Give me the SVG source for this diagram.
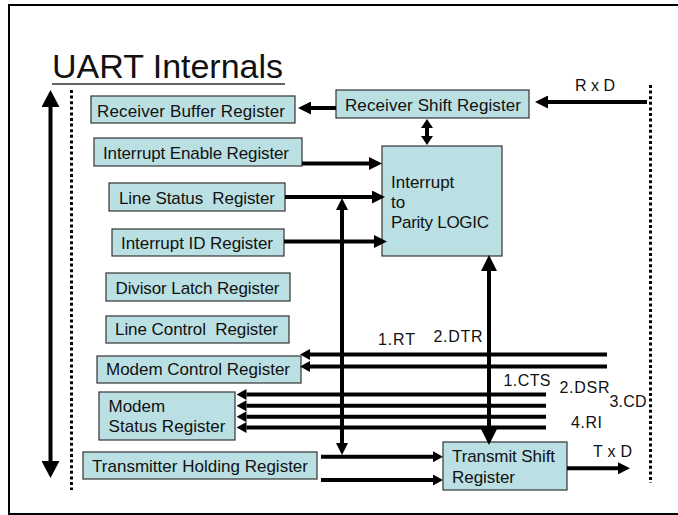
<svg xmlns="http://www.w3.org/2000/svg" width="678" height="515" viewBox="0 0 678 515">
<style>
.box{fill:#BBE0E3;stroke:#333;stroke-width:1.2}
.t{font-family:"Liberation Sans",Arial,sans-serif;font-size:17px;fill:#111;white-space:pre}
.lbl{font-family:"Liberation Sans",Arial,sans-serif;font-size:16px;fill:#111;white-space:pre}
.c{stroke:#000;stroke-width:4;fill:none}
.dot{stroke:#000;stroke-width:3;stroke-dasharray:3 2.6;fill:none}
</style>
<defs>
<marker id="m13" markerUnits="userSpaceOnUse" markerWidth="13" markerHeight="13" refX="0" refY="6.5" orient="auto-start-reverse"><path d="M0,0L13,6.5L0,13z" fill="#000"/></marker>
<marker id="m12" markerUnits="userSpaceOnUse" markerWidth="12" markerHeight="12" refX="0" refY="6" orient="auto-start-reverse"><path d="M0,0L12,6L0,12z" fill="#000"/></marker>
<marker id="m10" markerUnits="userSpaceOnUse" markerWidth="10" markerHeight="11" refX="0" refY="5.5" orient="auto-start-reverse"><path d="M0,0L10,5.5L0,11z" fill="#000"/></marker>
<marker id="m9" markerUnits="userSpaceOnUse" markerWidth="9" markerHeight="12" refX="0" refY="6" orient="auto-start-reverse"><path d="M0,0L9,6L0,12z" fill="#000"/></marker>
<marker id="m16" markerUnits="userSpaceOnUse" markerWidth="16" markerHeight="16" refX="0" refY="8" orient="auto-start-reverse"><path d="M0,0L16,8L0,16z" fill="#000"/></marker>
<marker id="m17" markerUnits="userSpaceOnUse" markerWidth="17" markerHeight="18" refX="0" refY="9" orient="auto-start-reverse"><path d="M0,0L17,9L0,18z" fill="#000"/></marker>
</defs>
<rect x="0" y="0" width="678" height="515" fill="#fff"/>
<rect x="9" y="5" width="700" height="509" fill="none" stroke="#000" stroke-width="2"/>
<g id="title">
<text x="52" y="78" font-family="Liberation Sans, Arial, sans-serif" font-size="34" fill="#111" textLength="231">UART Internals</text>
<line x1="52" y1="84" x2="285" y2="84" stroke="#333" stroke-width="1.5"/>
</g>
<g id="bus-lines">
<line class="dot" x1="71.5" y1="90" x2="71.5" y2="490"/>
<line class="dot" x1="650.5" y1="85" x2="650.5" y2="483"/>
</g>
<g id="receiver-buffer-register"><rect class="box" x="91" y="96" width="204" height="27"/><text class="t" x="97" y="117" textLength="188">Receiver Buffer Register</text></g>
<g id="interrupt-enable-register"><rect class="box" x="94" y="138" width="208" height="28"/><text class="t" x="103" y="158.5" textLength="186">Interrupt Enable Register</text></g>
<g id="line-status-register"><rect class="box" x="109" y="183" width="176" height="28"/><text class="t" x="119" y="204" textLength="156">Line Status  Register</text></g>
<g id="interrupt-id-register"><rect class="box" x="112" y="229" width="172" height="27"/><text class="t" x="121" y="248.5" textLength="152">Interrupt ID Register</text></g>
<g id="divisor-latch-register"><rect class="box" x="106" y="273" width="184" height="28"/><text class="t" x="115.5" y="294" textLength="164">Divisor Latch Register</text></g>
<g id="line-control-register"><rect class="box" x="106" y="316" width="183" height="27"/><text class="t" x="115" y="335" textLength="163">Line Control  Register</text></g>
<g id="modem-control-register"><rect class="box" x="97" y="356" width="204" height="27"/><text class="t" x="106" y="375" textLength="184">Modem Control Register</text></g>
<g id="modem-status-register"><rect class="box" x="99" y="392" width="136" height="48"/><text class="t" x="108.5" y="411.5">Modem</text><text class="t" x="108.5" y="431.5" textLength="117">Status Register</text></g>
<g id="transmitter-holding-register"><rect class="box" x="83" y="452" width="234" height="27"/><text class="t" x="92" y="471.5" textLength="216">Transmitter Holding Register</text></g>
<g id="receiver-shift-register"><rect class="box" x="336" y="90" width="193" height="28"/><text class="t" x="345" y="110.5" textLength="176">Receiver Shift Register</text></g>
<g id="interrupt-parity-logic"><rect class="box" x="382" y="146" width="120" height="110"/><text class="t" x="391" y="188">Interrupt</text><text class="t" x="391" y="207.5">to</text><text class="t" x="391" y="228" textLength="98">Parity LOGIC</text></g>
<g id="transmit-shift-register"><rect class="box" x="443" y="442" width="124" height="48"/><text class="t" x="452" y="462" textLength="103">Transmit Shift</text><text class="t" x="452" y="482.5" textLength="63">Register</text></g>
<g id="connectors">
<line class="c" x1="50.5" y1="107" x2="50.5" y2="461" stroke-width="5" marker-start="url(#m17)" marker-end="url(#m17)"/>
<line class="c" x1="647" y1="102" x2="548" y2="102" marker-end="url(#m13)"/>
<line class="c" x1="336" y1="108" x2="311" y2="108" marker-end="url(#m13)"/>
<line class="c" x1="427" y1="128" x2="427" y2="136" marker-start="url(#m9)" marker-end="url(#m9)"/>
<line class="c" x1="302" y1="163.5" x2="369" y2="163.5" marker-end="url(#m13)"/>
<line class="c" x1="285" y1="197" x2="372" y2="197" marker-end="url(#m13)"/>
<line class="c" x1="284" y1="241.5" x2="374" y2="241.5" marker-end="url(#m13)"/>
<line class="c" x1="342" y1="210" x2="342" y2="443" marker-start="url(#m12)" marker-end="url(#m12)"/>
<line class="c" x1="489" y1="271" x2="489" y2="429" stroke-width="5" marker-start="url(#m16)" marker-end="url(#m16)"/>
<line class="c" x1="607" y1="354.5" x2="310" y2="354.5" marker-end="url(#m10)"/>
<line class="c" x1="607" y1="366.5" x2="310" y2="366.5" marker-end="url(#m10)"/>
<line class="c" x1="546" y1="394.5" x2="246.5" y2="394.5" marker-end="url(#m10)"/>
<line class="c" x1="546" y1="405.8" x2="246.5" y2="405.8" marker-end="url(#m10)"/>
<line class="c" x1="546" y1="416.7" x2="246.5" y2="416.7" marker-end="url(#m10)"/>
<line class="c" x1="546" y1="427.5" x2="246.5" y2="427.5" marker-end="url(#m10)"/>
<line class="c" x1="321" y1="456.7" x2="433" y2="456.7" marker-end="url(#m10)"/>
<line class="c" x1="321" y1="480" x2="433" y2="480" marker-end="url(#m10)"/>
<line class="c" x1="567" y1="468.3" x2="618" y2="468.3" marker-end="url(#m12)"/>
</g>
<g id="labels">
<text class="lbl" x="575" y="91" textLength="40">R x D</text>
<text class="lbl" x="593" y="457" textLength="39">T x D</text>
<text class="lbl" x="378" y="344.5" textLength="37">1.RT</text>
<text class="lbl" x="433.5" y="342" textLength="49">2.DTR</text>
<text class="lbl" x="503.5" y="386" textLength="47">1.CTS</text>
<text class="lbl" x="559.5" y="393" textLength="50">2.DSR</text>
<text class="lbl" x="609.5" y="407" textLength="37">3.CD</text>
<text class="lbl" x="571" y="427.5" textLength="31">4.RI</text>
</g>
</svg>
